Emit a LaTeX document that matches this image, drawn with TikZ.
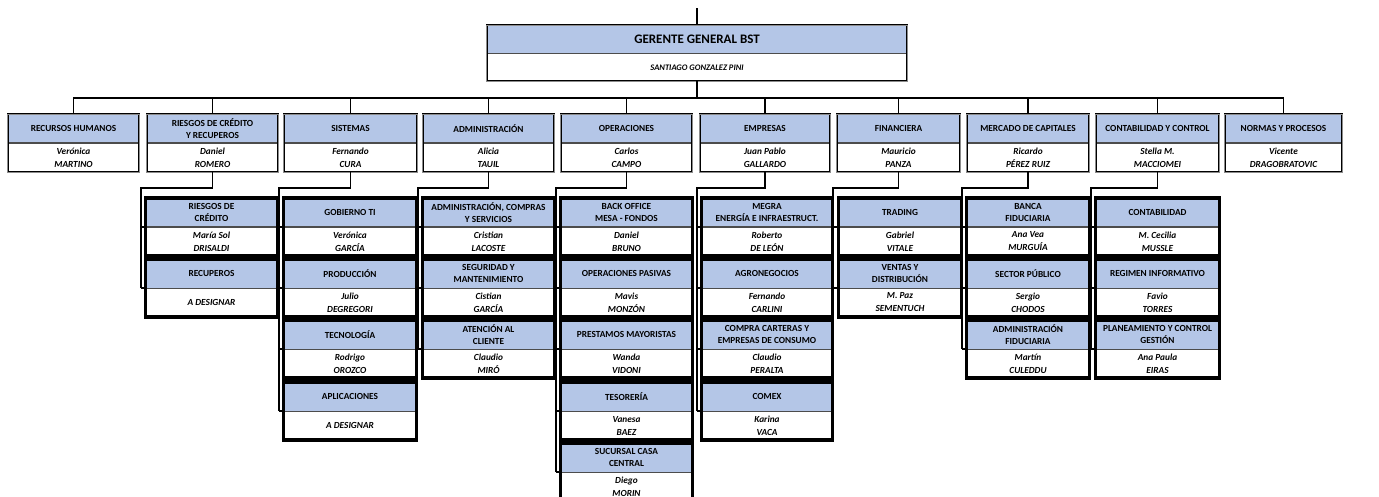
\documentclass[tikz,border=0pt]{standalone}
\usepackage{fontspec}
\setmainfont{Carlito}
\usetikzlibrary{calc}
\definecolor{azulcab}{RGB}{180,198,231}
\tikzset{
	area/.style={fill=azulcab, draw=black!70, line width=0.5pt, anchor=north,
		minimum height=28.5pt, inner sep=1pt, align=center,
		font=\fontsize{9.3}{12.5}\selectfont\bfseries},
	persona/.style={fill=white, draw=black!70, line width=0.5pt, anchor=north,
		minimum height=28.5pt, inner sep=1pt, align=center,
		font=\fontsize{9.3}{13}\selectfont\bfseries\itshape},
	marcodir/.style={draw=black, line width=0.6pt, double=black!45, double distance=0.7pt},
	marcosub/.style={draw=black, line width=3.2pt},
	linea/.style={draw=black, line width=1.6pt}
}
% #1 nodo, #2 marco, #3 x, #4 y, #5 ancho, #6 area, #7 persona
\newcommand{\cargo}[7]{%
	\node[area, minimum width=#5pt] (#1) at (#3,#4) {#6};
	\node[persona, minimum width=#5pt] (#1-p) at (#1.south) {#7};
	\draw[#2] (#1.north west) rectangle (#1-p.south east);}
% #1 area, #2 cantidad de dependencias
\newcommand{\rama}[2]{%
	\coordinate (#1-x) at ($(#1-1.north west)+(-5,0)$);
	\draw[linea] (#1-p.south) -- ++(0,16) -| (#1-x |- #1-#2.south west);
	\foreach \k in {1,...,#2} \draw[linea] (#1-x |- #1-\k.south west) -- (#1-\k.south west);}

\begin{document}
\begin{tikzpicture}[x=1pt,y=-1pt]
	\useasboundingbox (0,0) rectangle (1379,497);
	%%%%%%%%%%%%%%%
	\node[area, minimum width=420pt, minimum height=28pt, font=\fontsize{13}{15}\selectfont\bfseries] (gg) at (697,25) {GERENTE GENERAL BST};
	\node[persona, minimum width=420pt, minimum height=27pt, font=\fontsize{8.5}{10}\selectfont\bfseries\itshape] (gg-p) at (gg.south) {SANTIAGO GONZALEZ PINI};
	\draw[marcodir] (gg.north west) rectangle (gg-p.south east);
	%%%%%%%%%%%%%%%
	\cargo{rrhh}{marcodir}{73.5}{114}{131}{RECURSOS HUMANOS}{Verónica\\MARTINO}
	\cargo{riesgos}{marcodir}{212.5}{114}{131}{RIESGOS DE CRÉDITO\\Y RECUPEROS}{Daniel\\ROMERO}
	\cargo{sistemas}{marcodir}{350.5}{114}{133}{SISTEMAS}{Fernando\\CURA}
	\cargo{admin}{marcodir}{488.5}{114}{131}{ADMINISTRACIÓN}{Alicia\\TAUIL}
	\cargo{oper}{marcodir}{626.5}{114}{131}{OPERACIONES}{Carlos\\CAMPO}
	\cargo{empresas}{marcodir}{765}{114}{130}{EMPRESAS}{Juan Pablo\\GALLARDO}
	\cargo{finan}{marcodir}{898.5}{114}{123}{FINANCIERA}{Mauricio\\PANZA}
	\cargo{mercado}{marcodir}{1028}{114}{122}{MERCADO DE CAPITALES}{Ricardo\\PÉREZ RUIZ}
	\cargo{contab}{marcodir}{1157.5}{114}{123}{CONTABILIDAD Y CONTROL}{Stella M.\\MACCIOMEI}
	\cargo{normas}{marcodir}{1283.5}{114}{117}{NORMAS Y PROCESOS}{Vicente\\DRAGOBRATOVIC}
	%%%%%%%%%%%%%%%
	\cargo{riesgos-1}{marcosub}{211.5}{198}{131}{RIESGOS DE\\CRÉDITO}{María Sol\\DRISALDI}
	\cargo{riesgos-2}{marcosub}{211.5}{259}{131}{RECUPEROS}{A DESIGNAR}
	%%%%%%%%%%%%%%%
	\cargo{sistemas-1}{marcosub}{350}{198}{132}{GOBIERNO TI}{Verónica\\GARCÍA}
	\cargo{sistemas-2}{marcosub}{350}{259}{132}{PRODUCCIÓN}{Julio\\DEGREGORI}
	\cargo{sistemas-3}{marcosub}{350}{320}{132}{TECNOLOGÍA}{Rodrigo\\OROZCO}
	\cargo{sistemas-4}{marcosub}{350}{382}{132}{APLICACIONES}{A DESIGNAR}
	%%%%%%%%%%%%%%%
	\cargo{admin-1}{marcosub}{488.5}{198}{131}{ADMINISTRACIÓN, COMPRAS\\Y SERVICIOS}{Cristian\\LACOSTE}
	\cargo{admin-2}{marcosub}{488.5}{259}{131}{SEGURIDAD Y\\MANTENIMIENTO}{Cistian\\GARCÍA}
	\cargo{admin-3}{marcosub}{488.5}{320}{131}{ATENCIÓN AL\\CLIENTE}{Claudio\\MIRÓ}
	%%%%%%%%%%%%%%%
	\cargo{oper-1}{marcosub}{626.5}{198}{131}{BACK OFFICE\\MESA - FONDOS}{Daniel\\BRUNO}
	\cargo{oper-2}{marcosub}{626.5}{259}{131}{OPERACIONES PASIVAS}{Mavis\\MONZÓN}
	\cargo{oper-3}{marcosub}{626.5}{320}{131}{PRESTAMOS MAYORISTAS}{Wanda\\VIDONI}
	\cargo{oper-4}{marcosub}{626.5}{382}{131}{TESORERÍA}{Vanesa\\BAEZ}
	\cargo{oper-5}{marcosub}{626.5}{443}{131}{SUCURSAL CASA\\CENTRAL}{Diego\\MORIN}
	%%%%%%%%%%%%%%%
	\cargo{empresas-1}{marcosub}{767}{198}{130}{MEGRA\\ENERGÍA E INFRAESTRUCT.}{Roberto\\DE LEÓN}
	\cargo{empresas-2}{marcosub}{767}{259}{130}{AGRONEGOCIOS}{Fernando\\CARLINI}
	\cargo{empresas-3}{marcosub}{767}{320}{130}{COMPRA CARTERAS Y\\EMPRESAS DE CONSUMO}{Claudio\\PERALTA}
	\cargo{empresas-4}{marcosub}{767}{382}{130}{COMEX}{Karina\\VACA}
	%%%%%%%%%%%%%%%
	\cargo{finan-1}{marcosub}{900}{198}{123}{TRADING}{Gabriel\\VITALE}
	\cargo{finan-2}{marcosub}{900}{259}{123}{VENTAS Y\\DISTRIBUCIÓN}{M. Paz\\SEMENTUCH}
	%%%%%%%%%%%%%%%
	\cargo{mercado-1}{marcosub}{1028}{198}{122}{BANCA\\FIDUCIARIA}{Ana Vea\\MURGUÍA}
	\cargo{mercado-2}{marcosub}{1028}{259}{122}{SECTOR PÚBLICO}{Sergio\\CHODOS}
	\cargo{mercado-3}{marcosub}{1028}{320}{122}{ADMINISTRACIÓN\\FIDUCIARIA}{Martín\\CULEDDU}
	%%%%%%%%%%%%%%%
	\cargo{contab-1}{marcosub}{1157.5}{198}{123}{CONTABILIDAD}{M. Cecilia\\MUSSLE}
	\cargo{contab-2}{marcosub}{1157.5}{259}{123}{REGIMEN INFORMATIVO}{Favio\\TORRES}
	\cargo{contab-3}{marcosub}{1157.5}{320}{123}{PLANEAMIENTO Y CONTROL\\GESTIÓN}{Ana Paula\\EIRAS}
	%%%%%%%%%%%%%%%
	\draw[linea] (gg.north) -- ++(0,-17);
	\draw[linea] (gg-p.south) -- ++(0,18);
	\draw[linea] (rrhh.north) -- ++(0,-16) -| (normas.north);
	\foreach \d in {riesgos,sistemas,admin,oper,empresas,finan,mercado,contab}
		\draw[linea] (\d.north) -- ++(0,-16);
	%%%%%%%%%%%%%%%
	\rama{riesgos}{2}
	\rama{sistemas}{4}
	\rama{admin}{3}
	\rama{oper}{5}
	\rama{empresas}{4}
	\rama{finan}{2}
	\rama{mercado}{3}
	\rama{contab}{3}
\end{tikzpicture}
\end{document}
